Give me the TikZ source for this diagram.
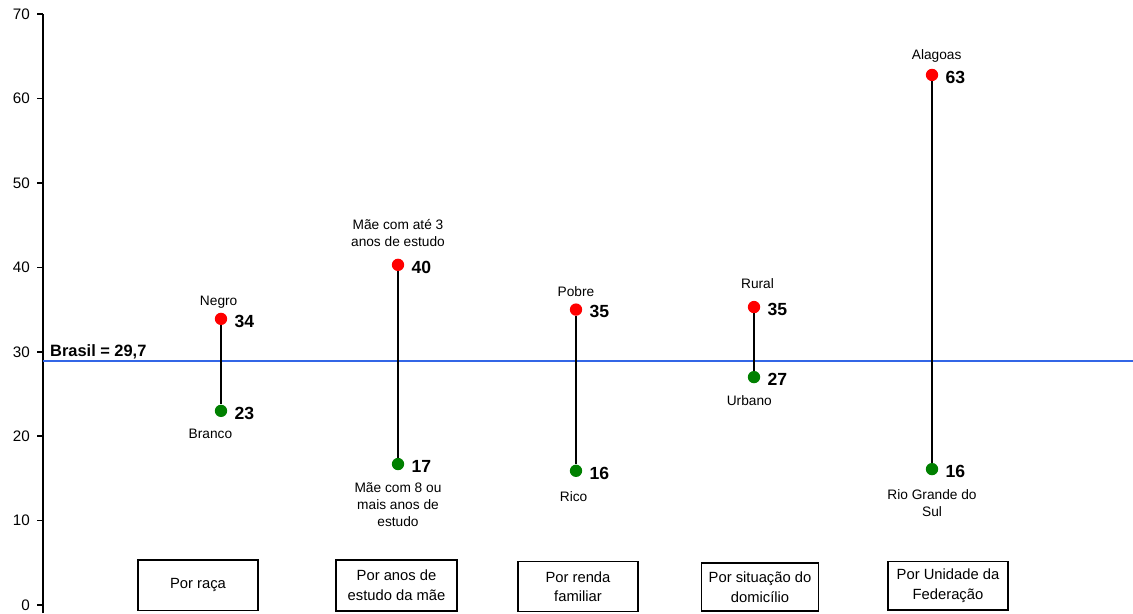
\documentclass[tikz,border=0pt]{standalone}
\usepackage{fontspec}
\setmainfont{Liberation Sans}
\usepackage{xcolor}
\usetikzlibrary{positioning}
\definecolor{dotred}{RGB}{255,0,0}
\definecolor{dotgreen}{RGB}{0,128,0}
\definecolor{brasilblue}{RGB}{51,102,230}
\tikzstyle{highdot} = [circle, fill=dotred, inner sep=0pt, minimum size=0.37cm]
\tikzstyle{lowdot} = [circle, fill=dotgreen, inner sep=0pt, minimum size=0.37cm]
\tikzstyle{stemline} = [line width=1.3pt, black]
\tikzstyle{axisline} = [line width=1.5pt, black]
\tikzstyle{valuelabel} = [font=\fontsize{15}{17}\selectfont\bfseries, inner sep=0pt]
\tikzstyle{catlabel} = [font=\fontsize{11.7}{14.5}\selectfont, align=center, inner sep=0pt]
\tikzstyle{category} = [rectangle, draw=black, line width=1.1pt, align=center, inner sep=0pt, minimum width=3.6cm, minimum height=1.5cm, font=\fontsize{12.6}{17}\selectfont]

\begin{document}
\begin{tikzpicture}[x=0.03cm, y=0.2532cm]
	\useasboundingbox (0,-0.948) rectangle (1133,71.68);
	
	% axis
	\draw[axisline] (43,-0.948) -- (43,70);
	\foreach \v in {0,10,...,70} {
		\draw[axisline] (37,\v) -- (43,\v);
		\node (tick-\v) [anchor=east, inner sep=0pt, font=\fontsize{13}{15}\selectfont] at (30,\v) {\v};
	}
	
	% reference line
	\coordinate (brasil-start) at (43,28.9);
	\coordinate (brasil-end) at (1133,28.9);
	\draw[line width=1.3pt, brasilblue] (brasil-start) -- (brasil-end);
	\node (brasil-text) [anchor=base west, inner sep=0pt, font=\fontsize{14}{16}\selectfont\bfseries] at (50,29.5) {Brasil = 29,7};
	
	% dots
	\node (raca-hi) [highdot] at (221,33.9) {};
	\node (raca-lo) [lowdot] at (221,23.0) {};
	\node (anos-hi) [highdot] at (398,40.3) {};
	\node (anos-lo) [lowdot] at (398,16.7) {};
	\node (renda-hi) [highdot] at (576,35.0) {};
	\node (renda-lo) [lowdot] at (576,15.9) {};
	\node (sit-hi) [highdot] at (754,35.3) {};
	\node (sit-lo) [lowdot] at (754,27.0) {};
	\node (uf-hi) [highdot] at (932,62.8) {};
	\node (uf-lo) [lowdot] at (932,16.1) {};
	
	% stems
	\draw[stemline] (raca-hi) -- (raca-lo);
	\draw[stemline] (anos-hi) -- (anos-lo);
	\draw[stemline] (renda-hi) -- (renda-lo);
	\draw[stemline] (sit-hi) -- (sit-lo);
	\draw[stemline] (uf-hi) -- (uf-lo);
	
	% values
	\node (raca-hi-val) [valuelabel, right=6pt of raca-hi, yshift=-2pt] {34};
	\node (raca-lo-val) [valuelabel, right=6pt of raca-lo, yshift=-2pt] {23};
	\node (anos-hi-val) [valuelabel, right=6pt of anos-hi, yshift=-2pt] {40};
	\node (anos-lo-val) [valuelabel, right=6pt of anos-lo, yshift=-2pt] {17};
	\node (renda-hi-val) [valuelabel, right=6pt of renda-hi, yshift=-2pt] {35};
	\node (renda-lo-val) [valuelabel, right=6pt of renda-lo, yshift=-2pt] {16};
	\node (sit-hi-val) [valuelabel, right=6pt of sit-hi, yshift=-2pt] {35};
	\node (sit-lo-val) [valuelabel, right=6pt of sit-lo, yshift=-2pt] {27};
	\node (uf-hi-val) [valuelabel, right=6pt of uf-hi, yshift=-2pt] {63};
	\node (uf-lo-val) [valuelabel, right=6pt of uf-lo, yshift=-2pt] {16};
	
	% group labels
	\node (raca-hi-text) [catlabel, above=3.5pt of raca-hi, xshift=-2pt] {Negro};
	\node (raca-lo-text) [catlabel, below=10pt of raca-lo, xshift=-9pt] {Branco};
	\node (anos-hi-text) [catlabel, above=10pt of anos-hi] {Mãe com até 3\\anos de estudo};
	\node (anos-lo-text) [catlabel, below=10pt of anos-lo] {Mãe com 8 ou\\mais anos de\\estudo};
	\node (renda-hi-text) [catlabel, above=5pt of renda-hi] {Pobre};
	\node (renda-lo-text) [catlabel, below=12pt of renda-lo, xshift=-2pt] {Rico};
	\node (sit-hi-text) [catlabel, above=10pt of sit-hi, xshift=3pt] {Rural};
	\node (sit-lo-text) [catlabel, below=10pt of sit-lo, xshift=-4pt] {Urbano};
	\node (uf-hi-text) [catlabel, above=5pt of uf-hi, xshift=4pt] {Alagoas};
	\node (uf-lo-text) [catlabel, below=11.5pt of uf-lo] {Rio Grande do\\Sul};
	
	% category boxes
	\node (box-raca) [category, minimum height=1.52cm] at (198,2.33) {Por raça};
	\node (box-anos) [category, minimum width=3.63cm, minimum height=1.53cm] at (396.5,2.31) {Por anos de\\estudo da mãe};
	\node (box-renda) [category] at (578,2.17) {Por renda\\familiar};
	\node (box-sit) [category, minimum width=3.5cm, minimum height=1.44cm] at (760,2.13) {Por situação do\\domicílio};
	\node (box-uf) [category, minimum height=1.45cm] at (948,2.26) {Por Unidade da\\Federação};
\end{tikzpicture}
\end{document}
